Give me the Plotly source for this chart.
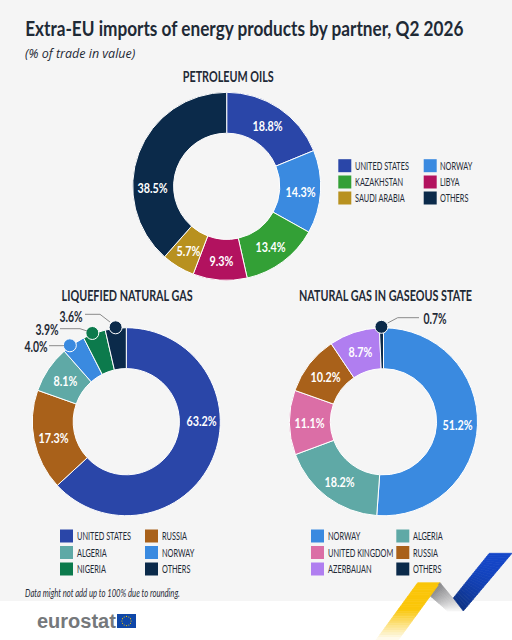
import math
import plotly.graph_objects as go

W, H = 512, 640

# Dados
petroleo_paises = ["UNITED STATES", "NORWAY", "KAZAKHSTAN", "LIBYA", "SAUDI ARABIA", "OTHERS"]
petroleo_valores = [18.8, 14.3, 13.4, 9.3, 5.7, 38.5]
gnl_paises = ["UNITED STATES", "RUSSIA", "ALGERIA", "NORWAY", "NIGERIA", "OTHERS"]
gnl_valores = [63.2, 17.3, 8.1, 4.0, 3.9, 3.6]
gas_paises = ["NORWAY", "ALGERIA", "UNITED KINGDOM", "RUSSIA", "AZERBAIJAN", "OTHERS"]
gas_valores = [51.2, 18.2, 11.1, 10.2, 8.7, 0.7]

CORES = {
    "UNITED STATES": "#2a46a8", "NORWAY": "#3a8ae0", "KAZAKHSTAN": "#33a036",
    "LIBYA": "#b2125f", "SAUDI ARABIA": "#b8911f", "OTHERS": "#0b2a4a",
    "RUSSIA": "#a9611a", "ALGERIA": "#5fa9a6", "NIGERIA": "#0c7a4c",
    "UNITED KINGDOM": "#db6ea6", "AZERBAIJAN": "#b07ef0",
}
FUNDO = "#f5f5f5"
TEXTO = "#1f2a36"
FONTE = "Lato"
RAIO = 94
HOLE = 0.565

fig = go.Figure()
shapes = []
annots = []


def px_x(x):
    return x / W


def px_y(y):
    return 1 - y / H


def texto(x, y, s, size=11, cor=TEXTO, bold=False, italic=False, anchor="center", font=FONTE, estreito=1):
    # estreito: a fonte original é condensada, ver post_script no fim
    if bold:
        s = f"<b>{s}</b>"
    if italic:
        s = f"<i>{s}</i>"
    annots.append(dict(x=px_x(x), y=px_y(y), xref="paper", yref="paper", text=s, showarrow=False,
                       xanchor=anchor, yanchor="middle", name=str(estreito),
                       font=dict(family=font, size=size, color=cor)))


def retangulo(x0, y0, x1, y1, cor):
    shapes.append(dict(type="rect", xref="paper", yref="paper", x0=px_x(x0), x1=px_x(x1),
                       y0=px_y(y1), y1=px_y(y0), fillcolor=cor, line_width=0, layer="below"))


def poligono(pts, cor, layer="above"):
    # shapes em pixels da imagem
    path = "M " + " L ".join(f"{px_x(x):.5f},{px_y(y):.5f}" for x, y in pts) + " Z"
    shapes.append(dict(type="path", xref="paper", yref="paper", path=path, fillcolor=cor,
                       line=dict(width=0.7, color=cor), layer=layer))


def linha(pts):
    path = "M " + " L ".join(f"{px_x(x):.5f},{px_y(y):.5f}" for x, y in pts)
    shapes.append(dict(type="path", xref="paper", yref="paper", path=path,
                       line=dict(color="#8a8a8a", width=1), layer="above"))


def circulo(cx, cy, r, cor, borda="white", lw=1):
    shapes.append(dict(type="circle", xref="paper", yref="paper", x0=px_x(cx - r), x1=px_x(cx + r),
                       y0=px_y(cy + r), y1=px_y(cy - r), fillcolor=cor,
                       line=dict(color=borda, width=lw), layer="above"))


def angulos(valores):
    total = sum(valores)
    acum = 0
    saida = []
    for v in valores:
        saida.append(2 * math.pi * (acum + v / 2) / total)
        acum += v
    return saida


def rosca(paises, valores, cx, cy, externos=None, ajuste=None):
    externos = externos or {}
    ajuste = ajuste or {}
    fig.add_trace(go.Pie(
        labels=paises, values=valores, sort=False, direction="clockwise", rotation=0,
        hole=HOLE, textinfo="none", showlegend=False,
        marker=dict(colors=[CORES[p] for p in paises], line=dict(color="white", width=1)),
        domain=dict(x=[px_x(cx - RAIO), px_x(cx + RAIO)], y=[px_y(cy + RAIO), px_y(cy - RAIO)]),
    ))
    for p, v, a in zip(paises, valores, angulos(valores)):
        if p in externos:
            a2 = a + math.radians(externos[p])
            circulo(cx + 95 * math.sin(a2), cy - 95 * math.cos(a2), 6.5, CORES[p])
        else:
            x, y = ajuste.get(p, (cx + 74 * math.sin(a), cy - 74 * math.cos(a) + 0.5))
            texto(x, y, f"{v}%", size=14, cor="white", bold=True, estreito=0.77)


def legenda(nomes, xs, ys):
    for i, p in enumerate(nomes):
        x = xs[i % 2]
        y = ys[i // 2]
        retangulo(x, y - 6.5, x + 13, y + 6.5, CORES[p])
        texto(x + 14.5, y, p, size=10.5, anchor="left", estreito=0.7)


# Fundos
retangulo(0, 0, W, 601, FUNDO)

# Títulos
texto(22.5, 28, "Extra-EU imports of energy products by partner, Q2 2026", size=21.5, bold=True, anchor="left", estreito=0.8)
texto(23, 54, "(% of trade in value)", size=12.5, italic=True, anchor="left", font="Open Sans")
texto(228, 76, "PETROLEUM OILS", size=15, bold=True, estreito=0.72)
texto(127, 295, "LIQUEFIED NATURAL GAS", size=15, bold=True, estreito=0.72)
texto(385, 295, "NATURAL GAS IN GASEOUS STATE", size=15, bold=True, estreito=0.72)
texto(22.5, 593, "Data might not add up to 100% due to rounding.", size=10.5, italic=True, anchor="left", estreito=0.73)

# Roscas
rosca(petroleo_paises, petroleo_valores, 226.7, 186.3, ajuste={"OTHERS": (152, 188)})
rosca(gnl_paises, gnl_valores, 126.3, 421.7, externos={"NORWAY": -2.3, "NIGERIA": -1, "OTHERS": 0},
      ajuste={"UNITED STATES": (201, 420)})
rosca(gas_paises, gas_valores, 383.5, 421.8, externos={"OTHERS": 0})

# Chamadas externas
linha([(85, 314.3), (100, 314.3), (110, 322)])
linha([(60, 328.7), (80, 328.7), (87, 331)])
linha([(49, 345.7), (64, 345.7)])
linha([(387.7, 323), (397.7, 317.7), (419, 317.7)])
texto(70.5, 316, f"{gnl_valores[5]}%", size=14.5, bold=True, estreito=0.72)
texto(47, 329.5, f"{gnl_valores[4]}%", size=14.5, bold=True, estreito=0.72)
texto(36, 346, f"{gnl_valores[3]}%", size=14.5, bold=True, estreito=0.72)
texto(434.5, 318, f"{gas_valores[5]}%", size=14.5, bold=True, estreito=0.72)

# Legendas (ordem por linhas: col. esquerda, col. direita)
legenda(["UNITED STATES", "NORWAY", "KAZAKHSTAN", "LIBYA", "SAUDI ARABIA", "OTHERS"], (338.3, 423.7), (165.7, 182, 198))
legenda(["UNITED STATES", "RUSSIA", "ALGERIA", "NORWAY", "NIGERIA", "OTHERS"], (60, 145), (536, 552.5, 569))
legenda(["NORWAY", "ALGERIA", "UNITED KINGDOM", "RUSSIA", "AZERBAIJAN", "OTHERS"], (311, 396.3), (536, 552.5, 569))


# Rodapé: logotipo
def mistura(c0, c1, t):
    return "#" + "".join(f"{round(a + (b - a) * t):02x}" for a, b in zip(c0, c1))


texto(35, 620.5, "eurostat", size=20, cor="#75787b", bold=True, anchor="left", font="Liberation Sans")
retangulo(117, 614, 136, 628, "#0f47a8")
for k in range(12):
    a = 2 * math.pi * k / 12
    circulo(126.5 + 4.6 * math.sin(a), 621 - 4.6 * math.cos(a), 0.6, "#f5c400", borda="#f5c400", lw=0)

# Rodapé: setas decorativas em degradê
N = 24
for i in range(N):
    t0, t1 = i / N, (i + 1) / N
    # amarela
    ax0, ay0 = 417.7 + (376 - 417.7) * t0, 582.7 + (640 - 582.7) * t0
    ax1, ay1 = 417.7 + (376 - 417.7) * t1, 582.7 + (640 - 582.7) * t1
    poligono([(ax0, ay0), (ax0 + 22.3, ay0), (ax1 + 22.3, ay1), (ax1, ay1)],
             mistura((250, 198, 10), (255, 255, 255), max(0, t0 - 0.45) / 0.55))
    # cinza
    gx0, gy0 = 429.3 + (447.7 - 429.3) * t0, 595 + (611 - 595) * t0
    gx1, gy1 = 429.3 + (447.7 - 429.3) * t1, 595 + (611 - 595) * t1
    hx0, hy0 = 440 + (463.3 - 440) * t0, 582.7 + (611 - 582.7) * t0
    hx1, hy1 = 440 + (463.3 - 440) * t1, 582.7 + (611 - 582.7) * t1
    poligono([(gx0, gy0), (hx0, hy0), (hx1, hy1), (gx1, gy1)],
             mistura((135, 135, 138), (250, 250, 250), t0))
    # azul
    bx0, by0 = 489.3 + (453.3 - 489.3) * t0, 553.3 + (598 - 553.3) * t0
    bx1, by1 = 489.3 + (453.3 - 489.3) * t1, 553.3 + (598 - 553.3) * t1
    cx0, cy0 = 512 + (463.3 - 512) * t0, 553.3 + (611 - 553.3) * t0
    cx1, cy1 = 512 + (463.3 - 512) * t1, 553.3 + (611 - 553.3) * t1
    poligono([(bx0, by0), (cx0, cy0), (cx1, cy1), (bx1, by1)],
             mistura((20, 70, 200), (14, 50, 130), t0 ** 2))

fig.update_layout(
    width=W, height=H, margin=dict(l=0, r=0, t=0, b=0),
    paper_bgcolor="white", plot_bgcolor="white",
    shapes=shapes, annotations=annots,
    font=dict(family=FONTE, color=TEXTO),
)

# tira a margem da página e estreita os textos marcados
post = """
document.body.style.margin = '0';
document.documentElement.style.overflow = 'hidden';
var gd = document.getElementById('{plot_id}');
gd.querySelectorAll('.annotation').forEach(function (g) {
  var a = gd.layout.annotations[+g.getAttribute('data-index')];
  if (a.name === '1') return;
  var t = g.querySelector('.annotation-text');
  var b = t.getBBox();
  var x0 = a.xanchor === 'left' ? b.x : b.x + b.width / 2;
  t.setAttribute('transform', 'translate(' + x0 + ',0) scale(' + a.name + ',1) translate(' + (-x0) + ',0)');
});
"""
fig.write_html("out.html", config=dict(displayModeBar=False), post_script=post)
